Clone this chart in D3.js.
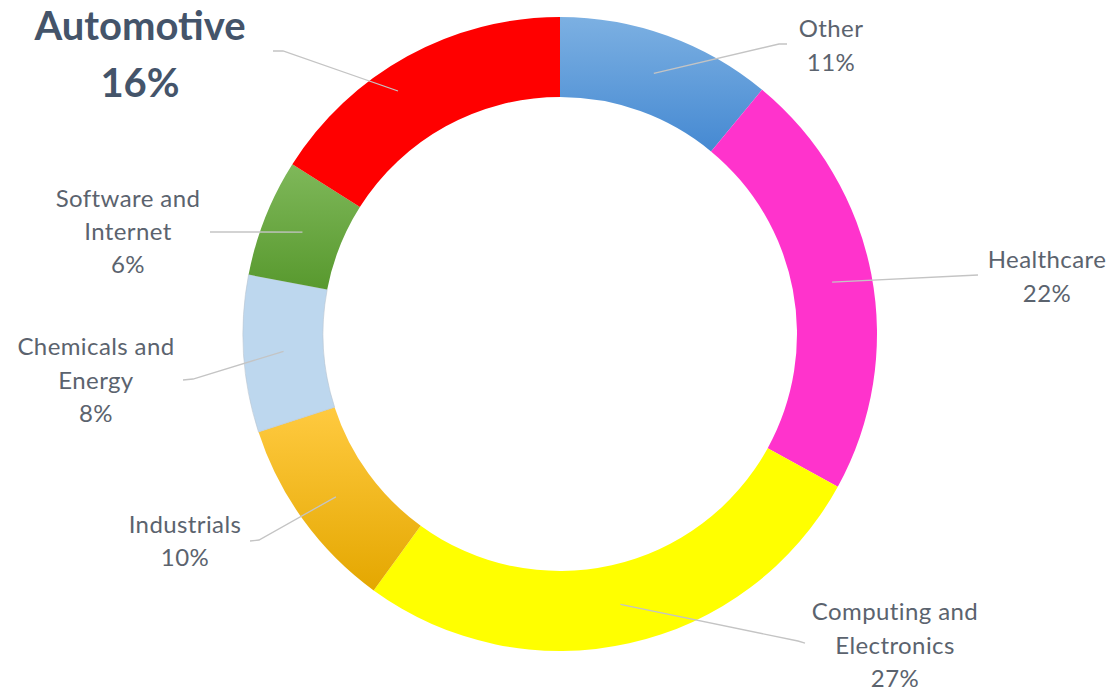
<!DOCTYPE html>
<html>
<head>
<meta charset="utf-8">
<script src="https://cdn.jsdelivr.net/npm/d3@7"></script>
<style>
  html, body { margin: 0; padding: 0; background: #ffffff; }
  svg { display: block; }
</style>
</head>
<body>
<svg id="chart" width="1113" height="691"></svg>
<script>
// ---- data ----
const categories = ["Other", "Healthcare", "Computing and Electronics", "Industrials", "Chemicals and Energy", "Software and Internet", "Automotive"];
const values = [11, 22, 27, 10, 8, 6, 16];
const labelLines = [["Other"], ["Healthcare"], ["Computing and", "Electronics"], ["Industrials"], ["Chemicals and", "Energy"], ["Software and", "Internet"], ["Automotive"]];

// ---- styles / layout ----
const sliceColors = [
  ["#7cb0e2", "#4589d2"],
  ["#ff33cc", "#ff33cc"],
  ["#ffff00", "#ffff00"],
  ["#ffca40", "#e4a700"],
  ["#bdd7ee", "#bdd7ee"],
  ["#7fb85a", "#58992e"],
  ["#ff0000", "#ff0000"]
];
// label anchor (center x, first baseline y), line spacing, leader bend points
const labelLayout = [
  { x: 831, y: 37, dy: 34, bold: false, leader: [[779, 44], [787, 44]] },
  { x: 1047, y: 268, dy: 34, bold: false, leader: [[978, 275]] },
  { x: 895, y: 620, dy: 33.5, bold: false, leader: [[798, 641], [805, 643]] },
  { x: 185, y: 533, dy: 33, bold: false, leader: [[259, 540], [250, 541]] },
  { x: 96, y: 355, dy: 33.5, bold: false, leader: [[193, 379], [183, 380]] },
  { x: 128, y: 207, dy: 33, bold: false, leader: [[210, 232]] },
  { x: 140, y: 40, dy: 57, bold: true, leader: [[283, 51], [273, 51]], start: [398, 91] }
];

const cx = 560, cy = 334, outerR = 317, innerR = 237;

const svg = d3.select("#chart");
const defs = svg.append("defs");
sliceColors.forEach((c, i) => {
  const g = defs.append("linearGradient").attr("id", "grad" + i)
    .attr("x1", 0).attr("y1", 0).attr("x2", 0).attr("y2", 1);
  g.append("stop").attr("offset", "0%").attr("stop-color", c[0]);
  g.append("stop").attr("offset", "100%").attr("stop-color", c[1]);
});

const pie = d3.pie().sort(null).value(d => d);
const arcs = pie(values);
const arc = d3.arc().innerRadius(innerR).outerRadius(outerR);
const midArc = d3.arc().innerRadius(innerR + 40).outerRadius(outerR - 40);

const g = svg.append("g").attr("transform", `translate(${cx},${cy})`);
g.selectAll("path.slice").data(arcs).join("path")
  .attr("class", "slice")
  .attr("d", arc)
  .attr("fill", (d, i) => `url(#grad${i})`)
  .attr("stroke", (d, i) => i === 4 ? "#b8c4d0" : "none")
  .attr("stroke-width", 0.6);

// leader lines
const line = d3.line();
arcs.forEach((d, i) => {
  const L = labelLayout[i];
  const c = midArc.centroid(d);
  const start = L.start ? L.start : [c[0] + cx, c[1] + cy];
  const pts = [start].concat(L.leader);
  svg.append("path")
    .attr("d", line(pts))
    .attr("fill", "none")
    .attr("stroke", "#c4c4c4")
    .attr("stroke-width", 1.3);
});

// labels
arcs.forEach((d, i) => {
  const L = labelLayout[i];
  const lines = labelLines[i].concat([values[i] + "%"]);
  const t = svg.append("text")
    .attr("text-anchor", "middle")
    .attr("font-family", "Lato, 'Open Sans', sans-serif")
    .attr("font-size", L.bold ? 40 : 24)
    .attr("letter-spacing", L.bold ? 0 : 0.4)
    .attr("font-weight", L.bold ? 700 : 400)
    .attr("fill", L.bold ? "#44546a" : "#5b636e");
  lines.forEach((s, k) => {
    t.append("tspan").attr("x", L.x).attr("y", L.y + k * L.dy).text(s);
  });
});
</script>
</body>
</html>
